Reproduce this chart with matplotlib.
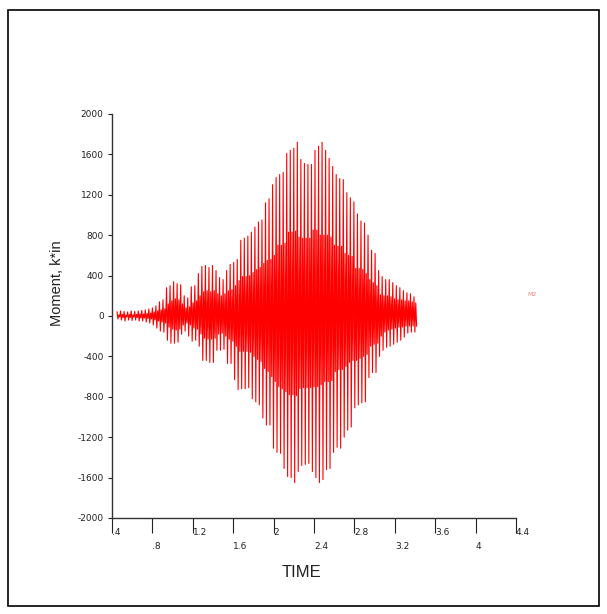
import matplotlib
matplotlib.use("Agg")
import matplotlib.pyplot as plt
from matplotlib.patches import Rectangle
import numpy as np

# record starts at t0 and each cycle lasts `period` (4 samples per cycle)
t0 = 0.45
period = 0.035

# positive peaks per cycle (k*in)
peak_hi = [40, 50, 45, 40, 50, 45, 50, 55, 60, 70,
           80, 100, 140, 160, 280, 300, 340, 320, 310, 200,
           180, 290, 300, 420, 490, 500, 480, 500, 450, 380,
           360, 450, 510, 530, 560, 750, 770, 790, 830, 880,
           930, 950, 1120, 1160, 1300, 1370, 1400, 1420, 1610, 1640,
           1660, 1720, 1550, 1510, 1500, 1500, 1640, 1680, 1720, 1640,
           1560, 1480, 1400, 1360, 1350, 1220, 1170, 1130, 1010, 940,
           920, 800, 650, 620, 450, 390, 360, 360, 330, 300,
           280, 250, 230, 220, 190]
# negative peaks per cycle
peak_lo = [-30, -40, -50, -40, -45, -40, -50, -50, -60, -70,
           -90, -120, -150, -160, -240, -270, -270, -260, -180, -150,
           -200, -250, -240, -300, -440, -440, -460, -460, -340, -340,
           -330, -470, -470, -630, -730, -720, -720, -710, -820, -850,
           -880, -1010, -1080, -1080, -1310, -1350, -1360, -1510, -1590, -1600,
           -1650, -1540, -1480, -1470, -1460, -1540, -1600, -1650, -1620, -1520,
           -1510, -1350, -1300, -1310, -1200, -1130, -1100, -910, -880, -860,
           -850, -610, -560, -560, -400, -340, -310, -300, -280, -260,
           -240, -210, -170, -160, -160]
# inner (smaller) positive samples
inner_pos = [10, 15, 10, 15, 10, 15, 20, 20, 25, 30,
             40, 50, 60, 70, 120, 150, 170, 160, 120, 80,
             90, 130, 150, 200, 240, 250, 240, 250, 220, 200,
             220, 250, 260, 300, 350, 390, 390, 400, 430, 460,
             480, 520, 550, 560, 600, 700, 700, 720, 830, 830,
             840, 780, 770, 770, 770, 850, 850, 800, 800, 800,
             780, 700, 690, 690, 620, 600, 590, 470, 470, 460,
             420, 360, 330, 300, 210, 200, 200, 190, 170, 160,
             160, 150, 150, 140, 130]
# inner (smaller) negative samples
inner_neg = [-10, -15, -10, -15, -10, -15, -20, -20, -25, -30,
             -40, -50, -60, -70, -110, -130, -140, -130, -90, -70,
             -90, -120, -130, -180, -220, -230, -230, -220, -180, -170,
             -200, -230, -250, -300, -350, -350, -350, -360, -400, -430,
             -450, -520, -550, -600, -650, -700, -720, -750, -780, -780,
             -790, -720, -710, -710, -710, -700, -700, -680, -650, -650,
             -640, -550, -530, -530, -500, -460, -440, -440, -420, -400,
             -380, -300, -280, -270, -200, -160, -140, -130, -120, -110,
             -110, -100, -100, -100, -100]

x_ticks = [0.4, 0.8, 1.2, 1.6, 2.0, 2.4, 2.8, 3.2, 3.6, 4.0, 4.4]
x_labels = ['.4', '.8', '1.2', '1.6', '2', '2.4', '2.8', '3.2', '3.6', '4', '4.4']
y_ticks = [-2000, -1600, -1200, -800, -400, 0, 400, 800, 1200, 1600, 2000]

moment = np.column_stack([peak_hi, peak_lo, inner_pos, inner_neg]).ravel()
time = t0 + period * np.arange(len(moment)) / 4.0

fig = plt.figure(figsize=(6.07, 6.14), dpi=100)
fig.patches.append(Rectangle((0.014, 0.013), 0.973, 0.971, transform=fig.transFigure,
                             fill=False, edgecolor='black', linewidth=1.2))

ax = fig.add_axes([0.1845, 0.1564, 0.6656, 0.658])
ax.plot(time, moment, color='red', linewidth=0.8)

ax.set_xlim(0.4, 4.4)
ax.set_ylim(-2000, 2000)
for side in ['top', 'right']:
    ax.spines[side].set_visible(False)
for side in ['left', 'bottom']:
    ax.spines[side].set_color('#333333')
    ax.spines[side].set_linewidth(1.0)

ax.set_yticks(y_ticks)
ax.set_yticklabels([str(v) for v in y_ticks], fontsize=6.5)
ax.tick_params(axis='y', length=3, width=0.8, pad=3, colors='#222222')

# long x ticks with labels staggered on two rows, left-aligned at the tick
ax.set_xticks(x_ticks)
ax.set_xticklabels([])
ax.tick_params(axis='x', length=11, width=0.8, colors='#222222')
for i, (xt, lab) in enumerate(zip(x_ticks, x_labels)):
    yoff = -15 if i % 2 == 0 else -29
    ax.annotate(lab, xy=(xt, 0), xycoords=('data', 'axes fraction'),
                xytext=(0, yoff), textcoords='offset pixels',
                ha='left', va='center', fontsize=6.5, color='#222222')

ax.text(0.47, -0.135, 'TIME', transform=ax.transAxes, ha='center', va='center',
        fontsize=12, family='Liberation Sans', color='#222222')
ax.text(-0.135, 0.58, 'Moment, k*in', transform=ax.transAxes, ha='center', va='center',
        rotation=90, fontsize=10.5, family='Liberation Sans', color='#222222')

# series label at the right
fig.text(0.868, 0.521, 'M2', fontsize=4.5, color='#f08080', ha='left', va='center')

fig.savefig('out.png', dpi=100)
